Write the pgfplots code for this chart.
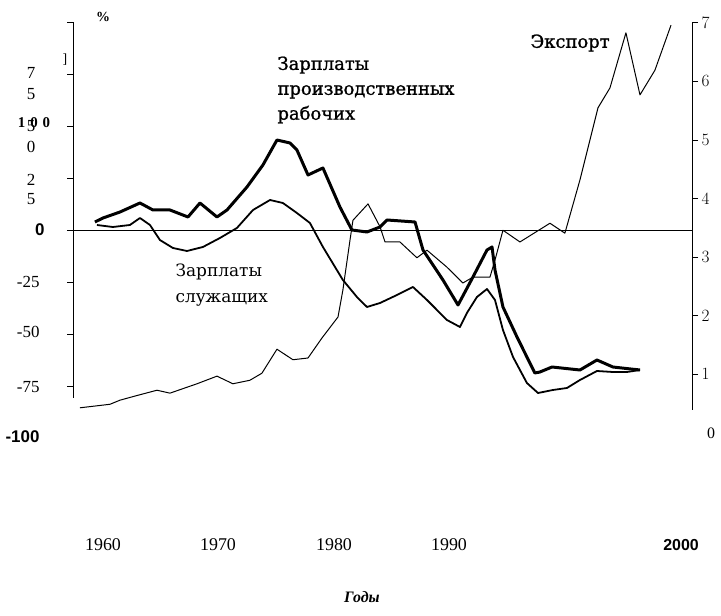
\documentclass[border=0pt]{standalone}
\usepackage{pgfplots}
\pgfplotsset{compat=1.18}
\usepackage{fontspec}
\setmainfont{Liberation Serif}
\newfontfamily\labfont{DejaVu Serif}
\newfontfamily\labfontb[FakeBold=1.2]{DejaVu Serif}
\newfontfamily\sansb{Liberation Sans}

\pgfplotstableread{
x y
1961.01 3.85
1961.56 5.77
1962.71 8.65
1964.06 12.98
1964.94 9.62
1966.09 9.62
1967.31 6.25
1968.12 12.98
1969.27 6.25
1969.95 9.62
1971.30 20.67
1972.38 31.25
1973.33 43.27
1974.21 41.83
1974.68 38.46
1975.43 26.44
1976.44 29.81
1977.59 11.06
1978.40 0.00
1979.42 -0.96
1980.30 1.44
1980.77 4.81
1982.67 3.85
1983.21 -9.62
1984.56 -24.04
1985.58 -36.06
1986.59 -22.60
1987.54 -9.62
1987.88 -8.17
1988.08 -19.23
1988.62 -37.02
1989.57 -51.44
1990.24 -61.06
1990.78 -68.75
1991.12 -68.27
1991.94 -65.87
1993.83 -67.31
1994.98 -62.50
1996.06 -65.87
1997.89 -67.31
}\prodtable

\pgfplotstableread{
x y
1961.15 2.40
1962.23 1.44
1963.38 2.40
1964.06 5.77
1964.74 2.40
1965.41 -4.81
1966.29 -8.65
1967.24 -10.10
1968.32 -8.17
1969.47 -3.85
1970.62 0.96
1971.71 9.62
1972.86 14.42
1973.73 12.98
1974.68 8.17
1975.56 3.37
1976.44 -8.17
1977.79 -24.04
1978.74 -32.21
1979.42 -37.02
1980.30 -35.10
1981.45 -31.25
1982.53 -27.40
1983.48 -33.65
1984.83 -43.27
1985.71 -46.63
1986.18 -39.90
1986.86 -32.21
1987.54 -28.37
1988.08 -33.65
1988.62 -48.08
1989.30 -61.06
1990.24 -73.56
1990.99 -78.37
1992.00 -76.92
1992.95 -75.96
1993.83 -72.12
1994.98 -67.79
1996.06 -68.27
1997.01 -68.27
1997.89 -67.31
}\servtable

\pgfplotstableread{
x y
1960.00 0.43
1962.03 0.49
1962.71 0.56
1963.72 0.63
1965.21 0.73
1966.09 0.68
1967.92 0.84
1969.27 0.97
1970.35 0.84
1971.50 0.90
1972.31 1.02
1973.33 1.43
1974.41 1.25
1975.43 1.28
1976.37 1.62
1977.46 1.98
1977.79 2.44
1978.27 3.29
1978.47 3.63
1979.49 3.91
1980.30 3.52
1980.64 3.26
1981.65 3.26
1982.80 2.99
1983.48 3.12
1984.83 2.83
1985.91 2.56
1986.59 2.66
1987.74 2.66
1988.08 2.95
1988.62 3.46
1989.77 3.26
1991.80 3.58
1992.81 3.41
1993.83 4.32
1995.05 5.55
1995.86 5.89
1996.94 6.83
1997.89 5.77
1998.90 6.19
1999.99 6.96
}\exptable

\begin{document}
\begin{tikzpicture}
\path[use as bounding box] (0bp,0bp) rectangle (721bp,616bp);

% left axis (wages, %)
\begin{axis}[at={(73bp,594bp)}, anchor=north west, scale only axis,
  width=619bp, height=376bp,
  xmin=1959.53, xmax=2001.41, ymin=-80.77, ymax=100,
  axis x line=none, axis y line*=left,
  axis line style={black, line width=0.6pt, -},
  ytick={-75,-50,-25,0,25,50,75,100}, yticklabels={},
  tick align=outside, major tick length=6bp,
  tick style={black, line width=0.8pt},
  clip=false]
  \addplot[black, line width=0.7pt] coordinates {(1959.12,0) (2001.41,0)};
  \addplot[black, line width=1.8pt, line join=round] table[x=x,y=y] {\servtable};
  \addplot[black, line width=3pt, line join=round] table[x=x,y=y] {\prodtable};
\end{axis}

% right axis (export)
\begin{axis}[at={(73bp,594bp)}, anchor=north west, scale only axis,
  width=619bp, height=388bp,
  xmin=1959.53, xmax=2001.41, ymin=0.3925, ymax=7.014,
  axis x line=none, axis y line*=right,
  axis line style={black, line width=0.8pt, -},
  ytick={1,2,3,4,5,6,7},
  tick align=outside, major tick length=6bp,
  tick style={black, line width=0.8pt},
  yticklabel style={font=\bfseries\fontsize{16}{16}\selectfont, anchor=west},
  clip=false]
  \addplot[black, line width=1pt, line join=round] table[x=x,y=y] {\exptable};
\end{axis}

% left axis labels
\begin{scope}[font=\fontsize{17}{17}\selectfont]
\node[anchor=east] at (43bp,616bp-282bp) {-25};
\node[anchor=east] at (43bp,616bp-332bp) {-50};
\node[anchor=east] at (43bp,616bp-387bp) {-75};
\node at (31bp,616bp-73bp) {7};
\node at (31bp,616bp-94bp) {5};
\node at (31bp,616bp-126bp) {5};
\node at (31bp,616bp-147bp) {0};
\node at (31bp,616bp-180bp) {2};
\node at (31bp,616bp-199bp) {5};
\node at (65bp,616bp-60bp) {\fontsize{14}{14}\selectfont ]};
\end{scope}
\node[font=\bfseries\fontsize{15}{15}\selectfont] at (34bp,616bp-123bp) {1\,\,0\,\,0};
\node[anchor=east, font=\sansb\bfseries\fontsize{17}{17}\selectfont] at (48bp,616bp-230bp) {0};
\node[anchor=east, font=\sansb\bfseries\fontsize{17}{17}\selectfont] at (43bp,616bp-437bp) {-100};
\node[font=\bfseries\fontsize{14}{14}\selectfont] at (103bp,616bp-17bp) {\%};
\node[font=\fontsize{16}{16}\selectfont] at (711bp,616bp-433bp) {0};

% year labels
\begin{scope}[font=\fontsize{18}{18}\selectfont]
\node at (103bp,616bp-545bp) {1960};
\node at (218bp,616bp-545bp) {1970};
\node at (334bp,616bp-545bp) {1980};
\node at (449bp,616bp-545bp) {1990};
\end{scope}
\node[font=\sansb\bfseries\fontsize{16}{16}\selectfont] at (681bp,616bp-545bp) {2000};
\node[font=\bfseries\itshape\fontsize{16}{16}\selectfont] at (362bp,616bp-597bp) {Годы};

% series labels
\node[anchor=west, align=left, font=\labfontb\fontsize{18}{25}\selectfont] at (274bp,616bp-90bp) {Зарплаты\\производственных\\рабочих};
\node[anchor=west, align=left, font=\labfont\fontsize{17}{26}\selectfont] at (172bp,616bp-285bp) {Зарплаты\\служащих};
\node[anchor=west, font=\labfontb\fontsize{18}{18}\selectfont] at (527bp,616bp-43bp) {Экспорт};
\end{tikzpicture}
\end{document}
